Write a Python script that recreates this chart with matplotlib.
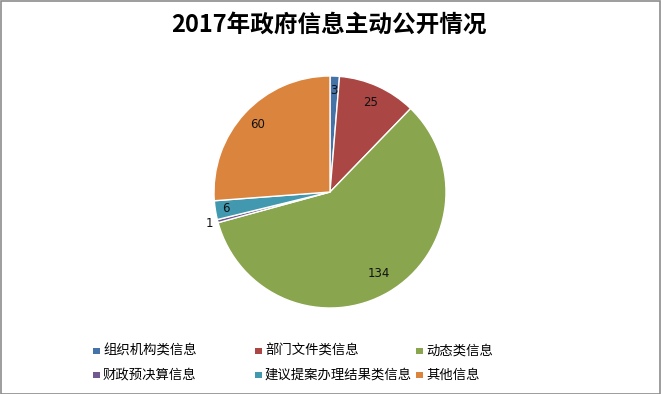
import matplotlib
matplotlib.use("Agg")
import matplotlib.pyplot as plt
import numpy as np
from matplotlib.patches import Rectangle

plt.rcParams['font.family'] = ['Noto Sans CJK SC', 'DejaVu Sans']

title = "2017年政府信息主动公开情况"
categories = ["组织机构类信息", "部门文件类信息", "动态类信息",
              "财政预决算信息", "建议提案办理结果类信息", "其他信息"]
values = [3, 25, 134, 1, 6, 60]
colors = ["#4572A7", "#AA4643", "#89A54E", "#71588F", "#4198AF", "#DB843D"]
label_radius = [0.88, 0.85, 0.82, 1.07, 0.91, 0.85]

W, H = 661, 394
fig = plt.figure(figsize=(W / 100, H / 100), dpi=100)

# pie axes: center (330,192) px, radius ~116 px
cx, cy, r = 330, 192, 116
ax = fig.add_axes([(cx - r) / W, (H - cy - r) / H, 2 * r / W, 2 * r / H])
wedges, _ = ax.pie(values, colors=colors, startangle=90, counterclock=False,
                   radius=1.0, wedgeprops=dict(edgecolor="white", linewidth=1.0))
ax.set_xlim(-1, 1)
ax.set_ylim(-1, 1)
ax.set_aspect("equal")
ax.axis("off")

for w, v, lr in zip(wedges, values, label_radius):
    mid = np.deg2rad((w.theta1 + w.theta2) / 2)
    ax.text(lr * np.cos(mid), lr * np.sin(mid), str(v), ha="center", va="center",
            fontsize=8.5, color="#111111", family=['DejaVu Sans'])

fig.text(329 / W, 1 - 25 / H, title, ha="center", va="center",
         fontsize=17, fontweight="bold", color="black")

# legend (2 rows x 3 cols)
col_x = [93, 255, 416]
row_y = [350.5, 374.5]
for i, (cat, col) in enumerate(zip(categories, colors)):
    row, c = divmod(i, 3)
    x, y = col_x[c], row_y[row]
    fig.patches.append(Rectangle((x / W, 1 - (y + 3.5) / H), 6.5 / W, 6.5 / H,
                                 transform=fig.transFigure, facecolor=col,
                                 edgecolor="none"))
    fig.text((x + 10) / W, 1 - y / H, cat, ha="left", va="center",
             fontsize=9.6, color="black")

# outer frame
fig.patches.append(Rectangle((0.5 / W, 0.5 / H), 1 - 1.5 / W, 1 - 1.5 / H,
                             transform=fig.transFigure, facecolor="none",
                             edgecolor="#8c8c8c", linewidth=1.2))

fig.savefig("out.png", dpi=100, facecolor="white")
